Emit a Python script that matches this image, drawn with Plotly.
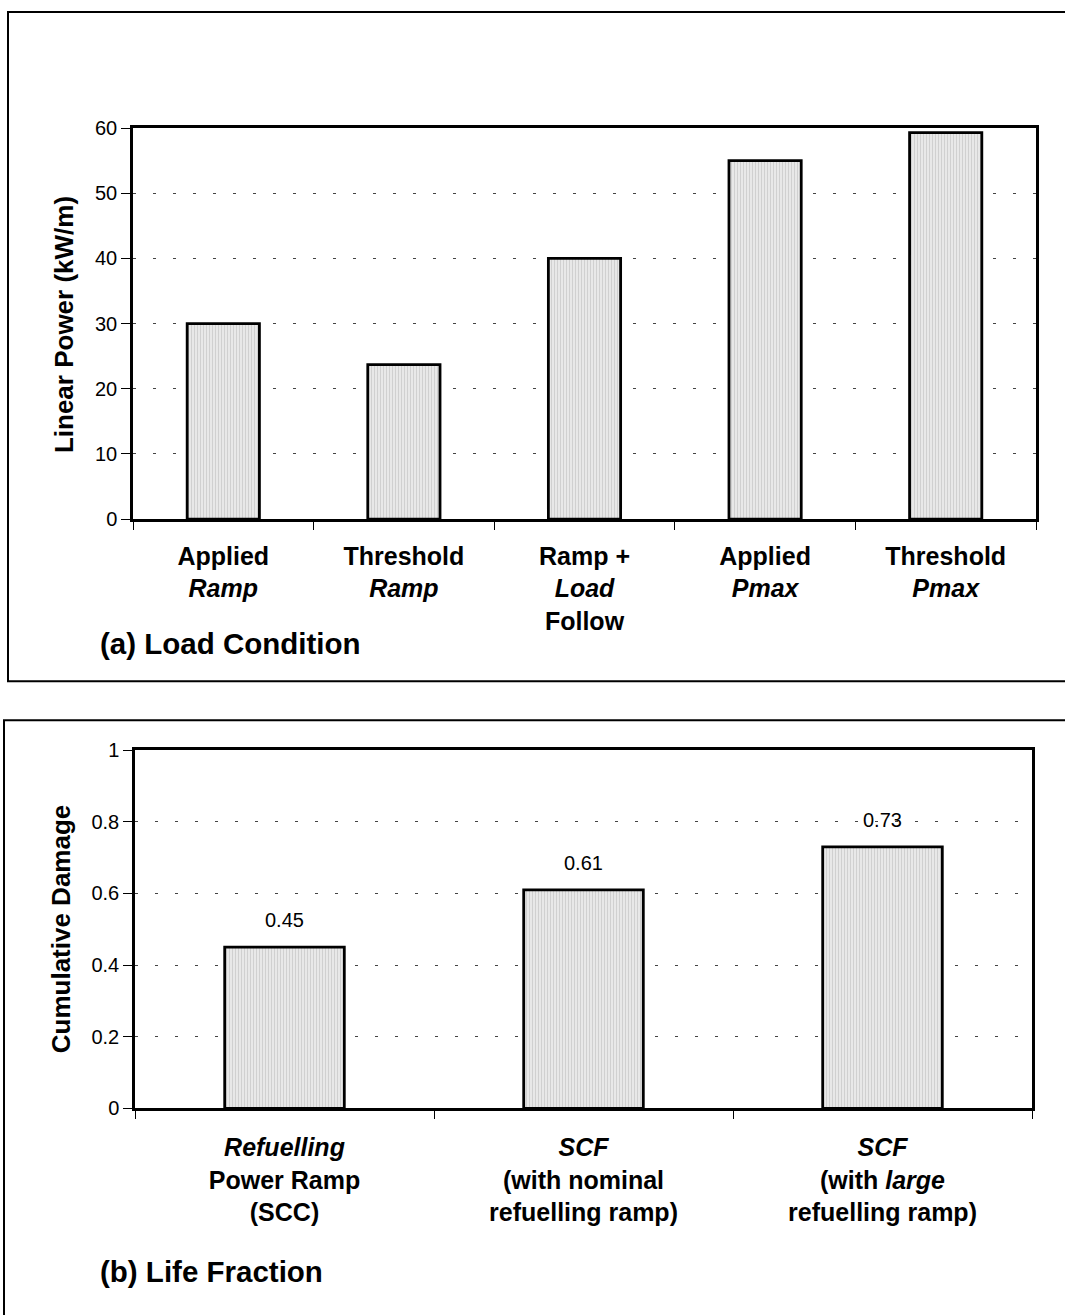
import plotly.graph_objects as go

# ---- data ----
categories_a = ["Applied Ramp", "Threshold Ramp", "Ramp + Load Follow", "Applied Pmax", "Threshold Pmax"]
ticklabels_a = ["<b>Applied<br><i>Ramp</i></b>", "<b>Threshold<br><i>Ramp</i></b>",
                "<b>Ramp +<br><i>Load</i><br>Follow</b>", "<b>Applied<br><i>Pmax</i></b>",
                "<b>Threshold<br><i>Pmax</i></b>"]
values_a = [30, 23.7, 40, 55, 59.3]

categories_b = ["Refuelling Power Ramp (SCC)", "SCF (nominal ramp)", "SCF (large ramp)"]
ticklabels_b = ["<b><i>Refuelling</i><br>Power Ramp<br>(SCC)</b>",
                "<b><i>SCF</i><br>(with nominal<br>refuelling ramp)</b>",
                "<b><i>SCF</i><br>(with <i>large</i><br>refuelling ramp)</b>"]
values_b = [0.45, 0.61, 0.73]
labels_b = ["0.45", "0.61", "0.73"]

ytitle_a = "Linear Power (kW/m)"
ytitle_b = "Cumulative Damage"
panel_a = "(a) Load Condition"
panel_b = "(b) Life Fraction"

W, H = 1065, 1315
FONT = "Liberation Sans, Arial, Helvetica, sans-serif"


def px(x):
    return x / W


def py(y):
    # compensate the vertical mapping observed in the photographed page
    ys = (y - 10) / 0.983
    return 1 - ys / H


bar_style = dict(
    color="#e2e2e2",
    line=dict(color="black", width=2.8),
    pattern=dict(shape="|", fgcolor="#a8a8a8", bgcolor="#e8e8e8", size=3, solidity=0.25),
)

fig = go.Figure()
fig.add_trace(go.Bar(x=categories_a, y=values_a, width=0.4, marker=bar_style,
                     xaxis="x", yaxis="y", showlegend=False, hoverinfo="skip"))
fig.add_trace(go.Bar(x=categories_b, y=values_b, width=0.4, marker=bar_style,
                     xaxis="x2", yaxis="y2", showlegend=False, hoverinfo="skip"))

axis_common = dict(showline=True, linecolor="black", linewidth=2.5, mirror=True,
                   ticks="outside", tickcolor="black", tickwidth=1, zeroline=False)

fig.update_layout(
    width=W, height=H,
    margin=dict(l=0, r=0, t=0, b=0),
    paper_bgcolor="white", plot_bgcolor="white",
    font=dict(family=FONT, color="black"),
    bargap=0.6,
    xaxis=dict(domain=[px(133), px(1036)], anchor="y", type="category",
               tickmode="array", tickvals=categories_a, ticktext=ticklabels_a,
               tickson="boundaries", ticklen=8, showgrid=False,
               tickfont=dict(size=25, family=FONT), ticklabelstandoff=13,
               **axis_common),
    yaxis=dict(domain=[py(518), py(127)], anchor="x", range=[0, 60], dtick=10,
               ticklen=9, tickfont=dict(size=20, family=FONT),
               showgrid=True, gridcolor="#444", gridwidth=1, griddash="3px,17px",
               **axis_common),
    xaxis2=dict(domain=[px(135), px(1032)], anchor="y2", type="category",
                tickmode="array", tickvals=categories_b, ticktext=ticklabels_b,
                tickson="boundaries", ticklen=8, showgrid=False,
                tickfont=dict(size=25, family=FONT), ticklabelstandoff=15,
                **axis_common),
    yaxis2=dict(domain=[py(1107), py(749)], anchor="x2", range=[0, 1], dtick=0.2,
                ticklen=9, tickfont=dict(size=20, family=FONT), tickformat="~g",
                showgrid=True, gridcolor="#444", gridwidth=1, griddash="3px,17px",
                **axis_common),
)

# outer panel boxes
fig.add_shape(type="rect", xref="paper", yref="paper",
              x0=px(8), x1=px(1066), y0=py(680), y1=py(11),
              line=dict(color="black", width=2), layer="below")
fig.add_shape(type="rect", xref="paper", yref="paper",
              x0=px(4), x1=px(1066), y0=py(1340), y1=py(719),
              line=dict(color="black", width=2), layer="below")

# axis titles
fig.add_annotation(text="<b>" + ytitle_a + "</b>", xref="paper", yref="paper",
                   x=px(64), y=py(324), textangle=-90, showarrow=False,
                   font=dict(size=26, family=FONT), xanchor="center", yanchor="middle")
fig.add_annotation(text="<b>" + ytitle_b + "</b>", xref="paper", yref="paper",
                   x=px(61), y=py(928), textangle=-90, showarrow=False,
                   font=dict(size=26, family=FONT), xanchor="center", yanchor="middle")

# panel captions
fig.add_annotation(text="<b>" + panel_a + "</b>", xref="paper", yref="paper",
                   x=px(98), y=py(642), showarrow=False, xanchor="left", yanchor="middle",
                   font=dict(size=29.5, family=FONT))
fig.add_annotation(text="<b>" + panel_b + "</b>", xref="paper", yref="paper",
                   x=px(98), y=py(1270), showarrow=False, xanchor="left", yanchor="middle",
                   font=dict(size=29.5, family=FONT))

# value labels above bars in panel (b)
for c, v, t in zip(categories_b, values_b, labels_b):
    fig.add_annotation(text=t, x=c, y=v, xref="x2", yref="y2", showarrow=False,
                       yanchor="bottom", yshift=14, font=dict(size=20, family=FONT))

fig.write_html(
    "out.html",
    config={"displayModeBar": False},
    post_script="document.body.style.margin='0';document.body.style.padding='0';"
                "document.documentElement.style.overflow='hidden';",
)
